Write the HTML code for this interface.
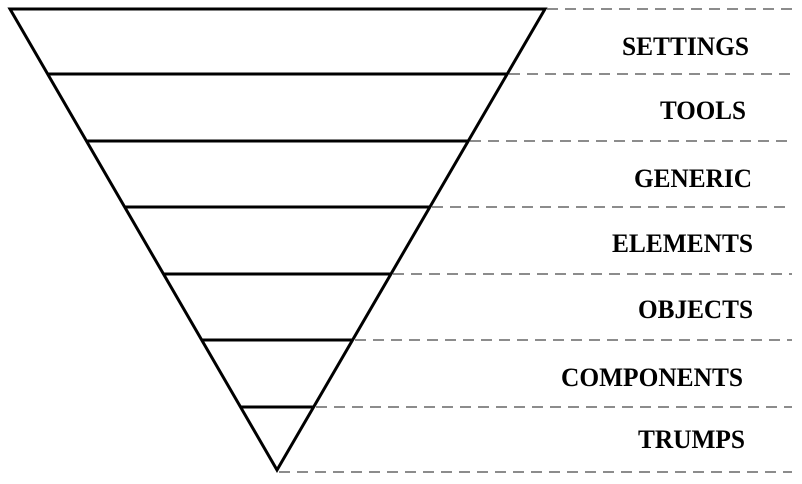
<!DOCTYPE html>
<html><head><meta charset="utf-8"><style>html,body{margin:0;padding:0;background:#fff}svg{display:block}</style></head>
<body>
<svg width="802" height="484" viewBox="0 0 802 484" xmlns="http://www.w3.org/2000/svg">
<g stroke="#666" stroke-width="1.5" stroke-dasharray="11,7" fill="none">
<line x1="547" y1="9" x2="792" y2="9"/>
<line x1="509" y1="74" x2="792" y2="74"/>
<line x1="470" y1="141" x2="792" y2="141"/>
<line x1="432" y1="207" x2="792" y2="207"/>
<line x1="393" y1="274" x2="792" y2="274"/>
<line x1="355" y1="340" x2="792" y2="340"/>
<line x1="316" y1="407" x2="792" y2="407"/>
<line x1="279" y1="472" x2="792" y2="472"/>
</g>
<polygon points="10,9 545,9 277,470" fill="none" stroke="#000" stroke-width="3" stroke-linejoin="miter"/>
<g stroke="#000" stroke-width="3">
<line x1="47.6" y1="74" x2="507.2" y2="74"/>
<line x1="86.4" y1="141" x2="468.3" y2="141"/>
<line x1="124.7" y1="207" x2="429.9" y2="207"/>
<line x1="163.5" y1="274" x2="390.9" y2="274"/>
<line x1="201.7" y1="340" x2="352.6" y2="340"/>
<line x1="240.5" y1="407" x2="313.6" y2="407"/>
</g>
<g font-family="Liberation Serif, serif" font-weight="bold" font-size="26" fill="#000">
<text x="622" y="55" textLength="127" lengthAdjust="spacingAndGlyphs">SETTINGS</text>
<text x="660" y="119" textLength="86" lengthAdjust="spacingAndGlyphs">TOOLS</text>
<text x="634" y="187" textLength="118" lengthAdjust="spacingAndGlyphs">GENERIC</text>
<text x="612" y="252" textLength="141" lengthAdjust="spacingAndGlyphs">ELEMENTS</text>
<text x="638" y="318" textLength="115" lengthAdjust="spacingAndGlyphs">OBJECTS</text>
<text x="561" y="386" textLength="182" lengthAdjust="spacingAndGlyphs">COMPONENTS</text>
<text x="638" y="448" textLength="107" lengthAdjust="spacingAndGlyphs">TRUMPS</text>
</g>
</svg>
</body></html>
